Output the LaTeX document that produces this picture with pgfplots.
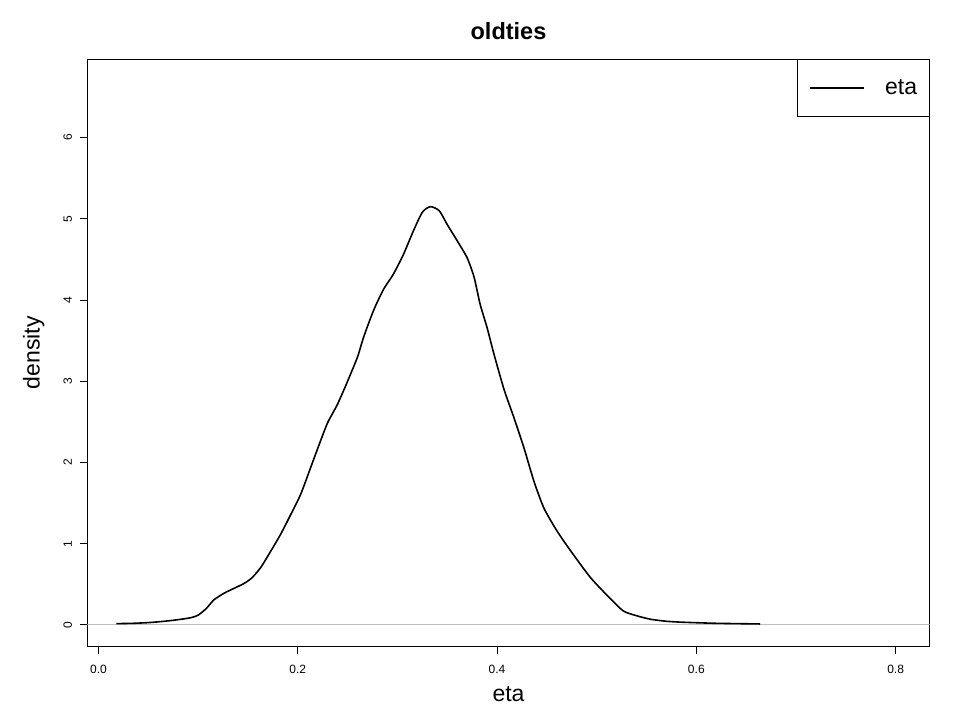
\documentclass[border=0pt]{standalone}
\usepackage{pgfplots}
\pgfplotsset{compat=1.18}
\usepackage{fontspec}
\setmainfont{Liberation Sans}
\begin{document}
\begin{tikzpicture}
\path[use as bounding box] (-87.5bp,-73.3bp) rectangle (872.5bp,646.7bp);
\begin{axis}[
  scale only axis,
  width=842bp, height=587.7bp,
  xmin=-0.011, xmax=0.834, ymin=-0.268, ymax=6.968,
  xtick={0,0.2,0.4,0.6,0.8}, ytick={0,1,2,3,4,5,6},
  xtick pos=bottom, ytick pos=left,
  tick align=outside, major tick length=7bp,
  axis line style={line width=0.9bp},
  every tick/.style={black, line width=0.9bp},
  /pgf/number format/assume math mode=true,
  xticklabel style={font=\fontsize{12bp}{14bp}\selectfont, yshift=-8bp, /pgf/number format/.cd, fixed, fixed zerofill, precision=1},
  yticklabel style={font=\fontsize{12bp}{14bp}\selectfont, xshift=-5bp, rotate=90, anchor=south},
  title={\textbf{oldties}},
  title style={font=\fontsize{23.5bp}{27bp}\selectfont, at={(rel axis cs:0.5,1.038)}, anchor=center},
  xlabel={eta},
  xlabel style={font=\fontsize{23bp}{27bp}\selectfont, at={(rel axis cs:0.5,-0.08)}, anchor=center},
  ylabel={density},
  ylabel style={font=\fontsize{23bp}{27bp}\selectfont, at={(rel axis cs:-0.064,0.5)}, anchor=center, rotate=0},
  legend style={at={(rel axis cs:1,1)}, anchor=north east, draw=black, line width=0.9bp,
    font=\fontsize{23bp}{27bp}\selectfont, inner xsep=12bp, inner ysep=20.5bp,
    nodes={inner sep=0pt}, column sep=20bp},
  legend image code/.code={\path (0bp,0bp) -- (10bp,0bp); \draw[line width=2bp] (10bp,0bp) -- (54bp,0bp);},
]
\addplot[color={rgb,255:red,190;green,190;blue,190}, line width=0.9bp, forget plot] coordinates {(-0.011,0) (0.834,0)};
\addplot[black, line width=1.6bp, smooth, tension=0.4] coordinates {
(0.018,0.016) (0.035,0.02) (0.052,0.03) (0.07,0.05) (0.083,0.07) (0.093,0.09)
(0.1,0.12) (0.108,0.2) (0.116,0.31) (0.126,0.39) (0.136,0.45) (0.146,0.51)
(0.154,0.58) (0.163,0.71) (0.173,0.91) (0.183,1.12) (0.193,1.36) (0.203,1.61)
(0.213,1.94) (0.223,2.27) (0.23,2.49) (0.24,2.72) (0.25,3.0) (0.26,3.3)
(0.266,3.54) (0.276,3.87) (0.286,4.13) (0.296,4.32) (0.306,4.56) (0.316,4.85)
(0.325,5.08) (0.333,5.15) (0.342,5.10) (0.35,4.93) (0.36,4.73) (0.37,4.52)
(0.377,4.28) (0.383,3.95) (0.39,3.66) (0.397,3.33) (0.407,2.9) (0.417,2.55)
(0.427,2.18) (0.437,1.77) (0.447,1.44) (0.46,1.16) (0.474,0.91) (0.494,0.58)
(0.514,0.32) (0.527,0.17) (0.541,0.11) (0.554,0.07) (0.57,0.045) (0.587,0.033)
(0.62,0.02) (0.664,0.012)};
\addlegendentry{eta}
\end{axis}
\end{tikzpicture}
\end{document}
